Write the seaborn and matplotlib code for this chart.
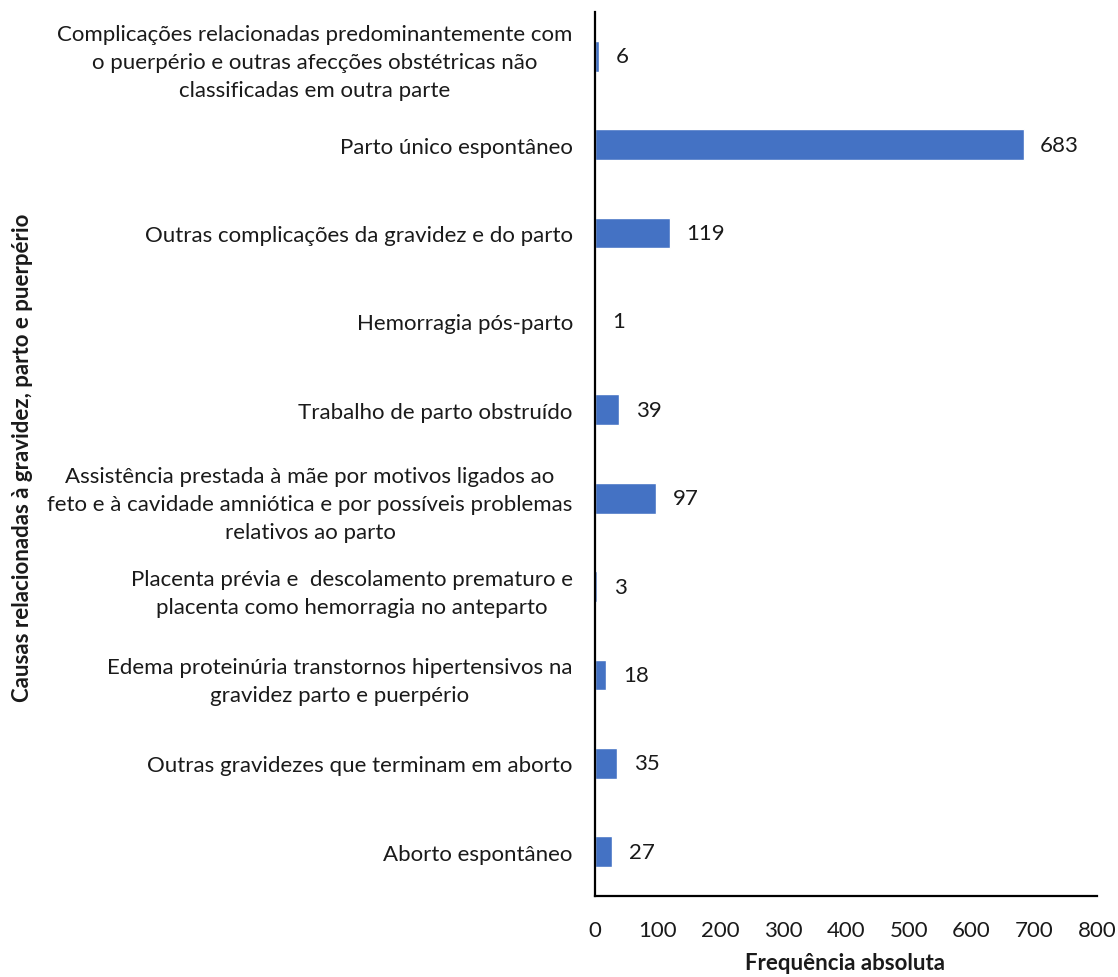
import matplotlib
matplotlib.use("Agg")
import matplotlib.pyplot as plt
import seaborn as sns
import pandas as pd

categories = [
    "Complicações relacionadas predominantemente com\no puerpério e outras afecções obstétricas não\nclassificadas em outra parte",
    "Parto único espontâneo",
    "Outras complicações da gravidez e do parto",
    "Hemorragia pós-parto",
    "Trabalho de parto obstruído",
    "Assistência prestada à mãe por motivos ligados ao\nfeto e à cavidade amniótica e por possíveis problemas\nrelativos ao parto",
    "Placenta prévia e  descolamento prematuro e\nplacenta como hemorragia no anteparto",
    "Edema proteinúria transtornos hipertensivos na\ngravidez parto e puerpério",
    "Outras gravidezes que terminam em aborto",
    "Aborto espontâneo",
]
values = [6, 683, 119, 1, 39, 97, 3, 18, 35, 27]
x_ticks = [0, 100, 200, 300, 400, 500, 600, 700, 800]

df = pd.DataFrame({"causa": categories, "freq": values})

sns.set_theme(style="white")
plt.rcParams["font.family"] = ["Lato", "DejaVu Sans"]

TXT = "#1a1a1a"
FS = 16

fig = plt.figure(figsize=(11.18, 9.78), dpi=100)
ax = fig.add_axes([0.5322, 0.0828, 0.449, 0.9039])

sns.barplot(data=df, x="freq", y="causa", orient="h", color="#4472C4",
            saturation=1, width=0.35, ax=ax)

ax.set_xlim(0, 800)
ax.set_ylim(9.5, -0.5)
ax.set_xticks(x_ticks)
ax.set_xticklabels([str(t) for t in x_ticks], fontsize=FS, color=TXT)
ax.tick_params(axis="x", length=0, pad=17)
ax.tick_params(axis="y", length=0, pad=16)
for lbl in ax.get_yticklabels():
    lbl.set_fontsize(FS)
    lbl.set_color(TXT)
    lbl.set_multialignment("center")
    lbl.set_linespacing(1.5)

for container in ax.containers:
    ax.bar_label(container, labels=[str(v) for v in values], padding=12,
                 fontsize=FS, color=TXT)

ax.set_xlabel("")
ax.set_ylabel("")
fig.text(0.756, 0.0153, "Frequência absoluta", ha="center", va="center",
         fontsize=FS, fontweight="bold", color=TXT)
fig.text(0.0197, 0.532, "Causas relacionadas à gravidez, parto e puerpério",
         rotation=90, ha="center", va="center", fontsize=FS,
         fontweight="bold", color=TXT)

for side in ["top", "right"]:
    ax.spines[side].set_visible(False)
for side in ["left", "bottom"]:
    ax.spines[side].set_color("black")
    ax.spines[side].set_linewidth(1.6)

fig.savefig("out.png", dpi=100, facecolor="white")
